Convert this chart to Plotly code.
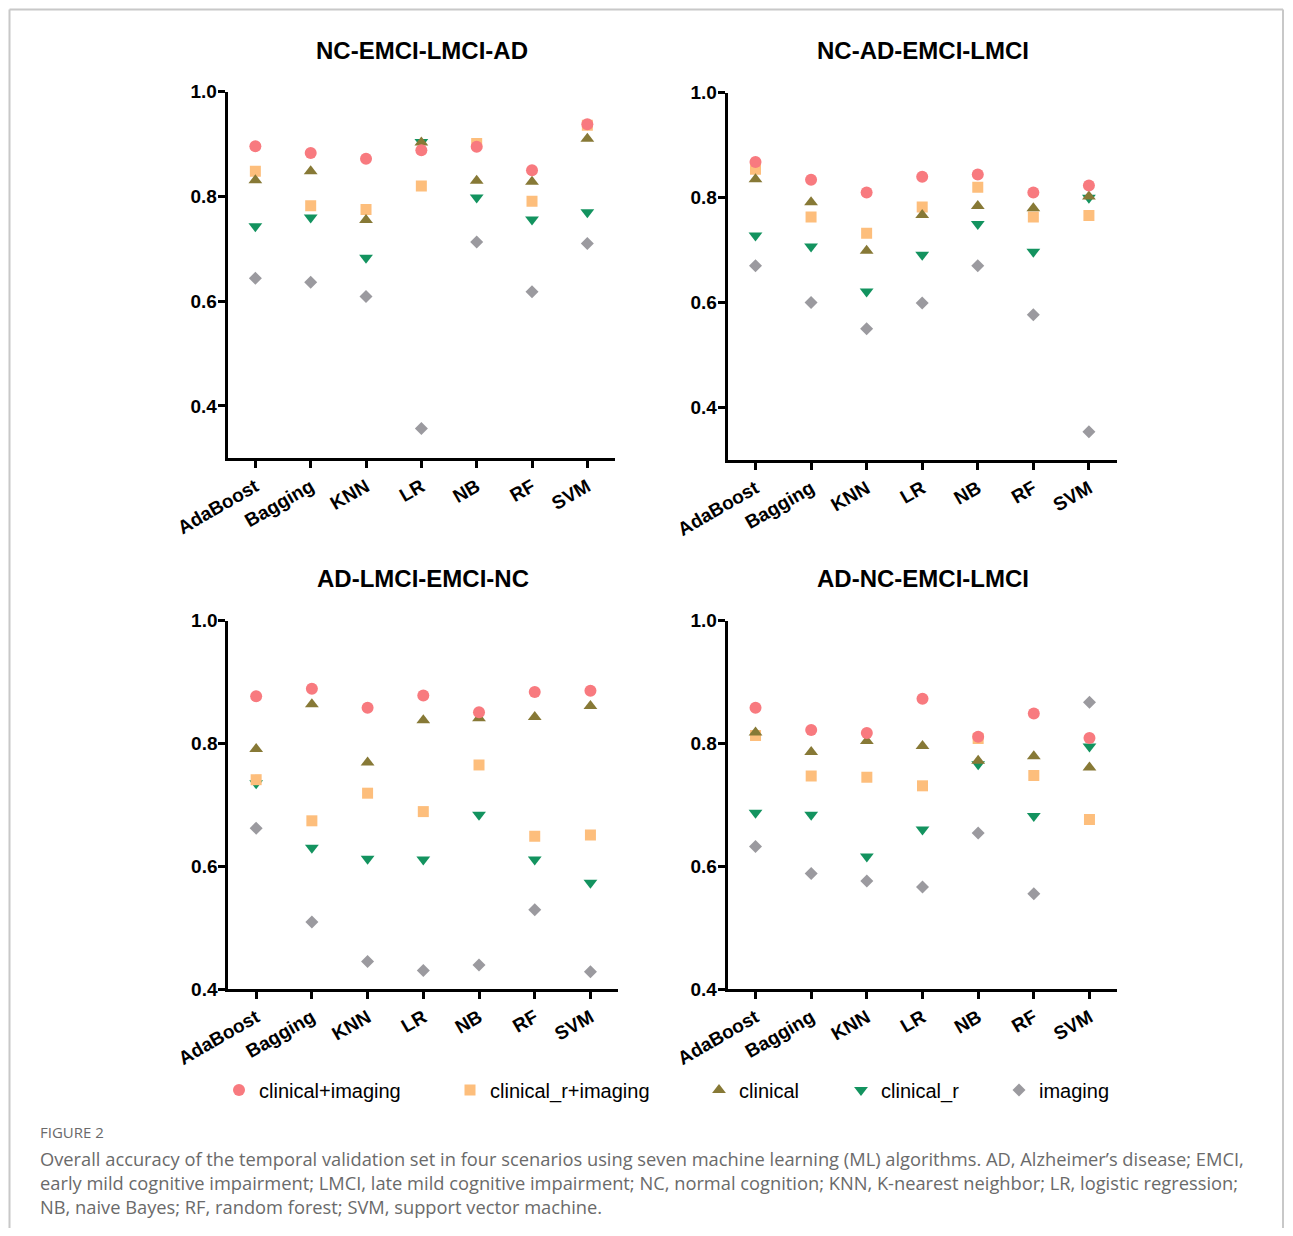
import plotly.graph_objects as go

# The page body has an 8px margin; the figure is sized so that it fits the window without scrolling.
OFF = 8
FW, FH = 1293 - OFF, 1236 - 2 * OFF


def fx(px):
    return (px - OFF) / FW


def fy(py):
    return 1 - (py - OFF) / FH


algorithms = ["AdaBoost", "Bagging", "KNN", "LR", "NB", "RF", "SVM"]
series_names = ["clinical+imaging", "clinical_r+imaging", "clinical", "clinical_r", "imaging"]
scenarios = ["NC-EMCI-LMCI-AD", "NC-AD-EMCI-LMCI", "AD-LMCI-EMCI-NC", "AD-NC-EMCI-LMCI"]

# values per scenario, per series (order of algorithms)
s1_clin_img   = [0.896, 0.883, 0.872, 0.888, 0.895, 0.850, 0.938]
s1_clinr_img  = [0.848, 0.782, 0.775, 0.820, 0.901, 0.791, 0.936]
s1_clin       = [0.831, 0.848, 0.755, 0.903, 0.830, 0.828, 0.910]
s1_clinr      = [0.743, 0.760, 0.683, 0.904, 0.798, 0.756, 0.770]
s1_img        = [0.644, 0.636, 0.609, 0.357, 0.713, 0.618, 0.710]

s2_clin_img   = [0.868, 0.834, 0.810, 0.840, 0.844, 0.810, 0.823]
s2_clinr_img  = [0.854, 0.763, 0.732, 0.782, 0.820, 0.763, 0.766]
s2_clin       = [0.835, 0.791, 0.699, 0.767, 0.784, 0.780, 0.802]
s2_clinr      = [0.728, 0.707, 0.621, 0.691, 0.750, 0.697, 0.800]
s2_img        = [0.670, 0.600, 0.550, 0.599, 0.670, 0.577, 0.354]

s3_clin_img   = [0.877, 0.889, 0.858, 0.878, 0.851, 0.884, 0.886]
s3_clinr_img  = [0.741, 0.674, 0.719, 0.689, 0.765, 0.649, 0.651]
s3_clin       = [0.791, 0.864, 0.769, 0.838, 0.841, 0.843, 0.861]
s3_clinr      = [0.735, 0.630, 0.612, 0.611, 0.684, 0.611, 0.573]
s3_img        = [0.662, 0.509, 0.445, 0.430, 0.439, 0.529, 0.428]

s4_clin_img   = [0.858, 0.822, 0.817, 0.873, 0.811, 0.849, 0.809]
s4_clinr_img  = [0.813, 0.747, 0.745, 0.731, 0.808, 0.748, 0.676]
s4_clin       = [0.818, 0.786, 0.804, 0.796, 0.772, 0.779, 0.761]
s4_clinr      = [0.687, 0.684, 0.616, 0.660, 0.766, 0.682, 0.795]
s4_img        = [0.632, 0.588, 0.576, 0.566, 0.654, 0.555, 0.867]

data = [
    [s1_clin_img, s1_clinr_img, s1_clin, s1_clinr, s1_img],
    [s2_clin_img, s2_clinr_img, s2_clin, s2_clinr, s2_img],
    [s3_clin_img, s3_clinr_img, s3_clin, s3_clinr, s3_img],
    [s4_clin_img, s4_clinr_img, s4_clin, s4_clinr, s4_img],
]

y_ranges = [[0.3, 1.0], [0.3, 1.0], [0.4, 1.0], [0.4, 1.0]]
ytick_vals = [0.4, 0.6, 0.8, 1.0]

colors = ["#F87A7F", "#FDBE7C", "#877936", "#13935F", "#9B9A9F"]
symbols = ["circle", "square", "triangle-up", "triangle-down", "diamond"]
sizes = [12, 11, 12, 12, 10]
draw_order = [4, 3, 1, 2, 0]

# panel pixel boxes: x0, x1, ytop, ybottom
boxes = [
    (227.7, 615.0, 91.7, 458.3),
    (727.7, 1116.7, 92.7, 460.0),
    (228.3, 618.3, 620.7, 989.0),
    (727.7, 1117.3, 620.7, 989.0),
]
title_pos = [(422, 50), (923, 50), (423, 578), (923, 578)]

fig = go.Figure()
for p in range(4):
    ax = "" if p == 0 else str(p + 1)
    for si in draw_order:
        fig.add_trace(go.Scatter(
            x=algorithms, y=data[p][si], mode="markers",
            name=series_names[si],
            marker=dict(symbol=symbols[si], color=colors[si], size=sizes[si], line=dict(width=0)),
            xaxis="x" + ax, yaxis="y" + ax,
            showlegend=(p == 0),
            legend=("legend" if si == 0 else "legend" + str(si + 1)),
        ))

axis_font = dict(family="Liberation Sans, Arial", size=19, color="black", weight="bold")
for p in range(4):
    x0, x1, yt, yb = boxes[p]
    ax = "" if p == 0 else str(p + 1)
    fig.layout["xaxis" + ax] = dict(
        domain=[fx(x0), fx(x1)], anchor="y" + ax, type="category",
        categoryorder="array", categoryarray=algorithms,
        range=[-0.5, 6.5], showline=True, linewidth=3, linecolor="black",
        ticks="outside", ticklen=7, tickwidth=3, tickcolor="black",
        tickangle=-30, tickfont=axis_font, showgrid=False, zeroline=False,
        automargin=False,
    )
    fig.layout["yaxis" + ax] = dict(
        domain=[fy(yb), fy(yt)], anchor="x" + ax,
        range=y_ranges[p], tickvals=ytick_vals, tickformat=".1f",
        showline=True, linewidth=3, linecolor="black",
        ticks="outside", ticklen=7, tickwidth=3, tickcolor="black",
        tickfont=axis_font, showgrid=False, zeroline=False,
        ticklabelstandoff=-3, automargin=False,
    )

annotations = []
for p in range(4):
    tx, ty = title_pos[p]
    annotations.append(dict(
        text=scenarios[p], x=fx(tx), y=fy(ty), xref="paper", yref="paper",
        xanchor="center", yanchor="middle", showarrow=False,
        font=dict(family="Liberation Sans, Arial", size=24, color="black", weight="bold"),
    ))

caption_lines = [
    "Overall accuracy of the temporal validation set in four scenarios using seven machine learning (ML) algorithms. AD, Alzheimer\u2019s disease; EMCI,",
    "early mild cognitive impairment; LMCI, late mild cognitive impairment; NC, normal cognition; KNN, K-nearest neighbor; LR, logistic regression;",
    "NB, naive Bayes; RF, random forest; SVM, support vector machine.",
]
annotations.append(dict(
    text="FIGURE 2", x=fx(38), y=fy(1132), xref="paper", yref="paper",
    xanchor="left", yanchor="middle", showarrow=False,
    font=dict(family="Open Sans", size=15, color="#6a6a6a"),
))
for i, line in enumerate(caption_lines):
    annotations.append(dict(
        text=line, x=fx(38), y=fy(1158 + 24 * i), xref="paper", yref="paper",
        xanchor="left", yanchor="middle", showarrow=False,
        font=dict(family="Open Sans", size=18.3, color="#6a6a6a"),
    ))

# legends positions (symbol centers in px)
legend_sym_x = [238, 469, 718, 860, 1018]
legend_y = 1090
legend_font = dict(family="Liberation Sans, Arial", size=20, color="black")
layout_legends = {}
for i, sx in enumerate(legend_sym_x):
    key = "legend" if i == 0 else "legend" + str(i + 1)
    layout_legends[key] = dict(
        x=fx(sx - 19), y=fy(legend_y), xanchor="left", yanchor="middle",
        xref="paper", yref="paper", orientation="h", font=legend_font,
        bgcolor="rgba(0,0,0,0)", borderwidth=0, itemclick=False,
    )

bx0, bx1, by0 = 9.5, 1283.0, 9.5
shapes = [
    dict(type="line", xref="paper", yref="paper", x0=fx(bx0), x1=fx(bx0), y0=fy(by0), y1=0,
         line=dict(color="#c8c8c8", width=2)),
    dict(type="line", xref="paper", yref="paper", x0=fx(bx0), x1=fx(bx1), y0=fy(by0), y1=fy(by0),
         line=dict(color="#c8c8c8", width=2)),
    dict(type="line", xref="paper", yref="paper", x0=fx(bx1), x1=fx(bx1), y0=fy(by0), y1=0,
         line=dict(color="#c8c8c8", width=2)),
]

fig.update_layout(
    width=FW, height=FH, margin=dict(l=0, r=0, t=0, b=0, autoexpand=False),
    paper_bgcolor="white", plot_bgcolor="white",
    annotations=annotations, shapes=shapes,
    **layout_legends,
)

fig.write_html("out.html")
